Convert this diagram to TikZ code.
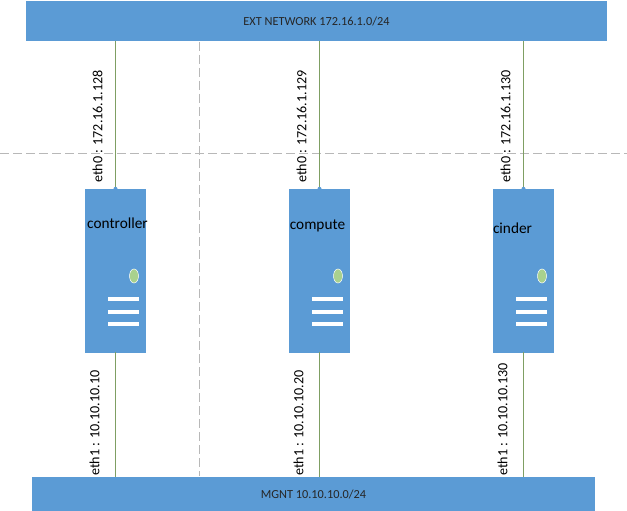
\documentclass[tikz,border=0pt]{standalone}
\usepackage{fontspec}
\setmainfont{Carlito}
\definecolor{boxblue}{HTML}{5B9BD5}
\definecolor{linkgreen}{HTML}{7F9F63}
\definecolor{dashgrey}{HTML}{B8B8B8}
\definecolor{ledgreen}{HTML}{A9D18E}
\tikzset{
  bar/.style={fill=boxblue,draw=none,inner sep=0pt,font=\fontsize{12.3}{14}\selectfont,text=black!85},
  server/.style={fill=boxblue,draw=none,inner sep=0pt,minimum width=61pt,minimum height=164pt},
  link/.style={draw=linkgreen,line width=0.8pt},
  guide/.style={draw=dashgrey,line width=0.8pt,dash pattern=on 9pt off 4pt},
  addr/.style={rotate=90,inner sep=0pt,font=\fontsize{14.1}{16}\selectfont,text=black},
  srvname/.style={inner sep=0pt,font=\fontsize{15.3}{17}\selectfont,text=black},
  led/.style={ellipse,fill=ledgreen,draw=white,line width=0.5pt,minimum width=9pt,minimum height=14pt,inner sep=0pt},
  slot/.style={fill=white,draw=none,inner sep=0pt,minimum width=31pt,minimum height=4pt}
}
\usetikzlibrary{shapes.geometric}
\begin{document}
\begin{tikzpicture}[x=1pt,y=-1pt]
\useasboundingbox[fill=white] (0,0) rectangle (627,511);
\coordinate (hl) at (0,153);
\coordinate (hr) at (627,153);
\coordinate (vt) at (199,42);
\coordinate (vb) at (199,476);
\draw[guide] (hl) -- (hr);
\draw[guide] (vt) -- (vb);
\node[bar,minimum width=581pt,minimum height=40pt] (ext) at (316.5,21) {EXT NETWORK 172.16.1.0/24};
\node[bar,minimum width=563pt,minimum height=34pt] (mgnt) at (313.5,494) {MGNT 10.10.10.0/24};
\foreach \n/\cx/\nm/\nx/\ny/\ea/\eb in {
  ctrl/115.5/controller/117.5/223/eth0 : 172.16.1.128/eth1 : 10.10.10.10,
  comp/319.5/compute/317.5/226/eth0 : 172.16.1.129/eth1 : 10.10.10.20,
  cind/523.5/cinder/512.5/228.5/eth0 : 172.16.1.130/eth1 : 10.10.10.130}{
  \node[server] (\n) at (\cx,271) {};
  \draw[link] (\n.north) -- (\n.north |- ext.south);
  \draw[link] ([yshift=1pt]\n.south) -- (\n.south |- mgnt.north);
  \fill[boxblue] (\n.north) circle (2pt);
  \node[srvname] (\n name) at (\nx,\ny) {\nm};
  \node[led] (\n led) at (\cx+18.5,276) {};
  \node[slot] (\n s1) at (\cx+8,299) {};
  \node[slot] (\n s2) at (\cx+8,311.5) {};
  \node[slot] (\n s3) at (\cx+8,324) {};
  \node[addr,anchor=west] (\n a) at (\cx-18,183) {\ea};
  \node[addr,anchor=west] (\n b) at (\cx-21,476) {\eb};
}
\end{tikzpicture}
\end{document}
